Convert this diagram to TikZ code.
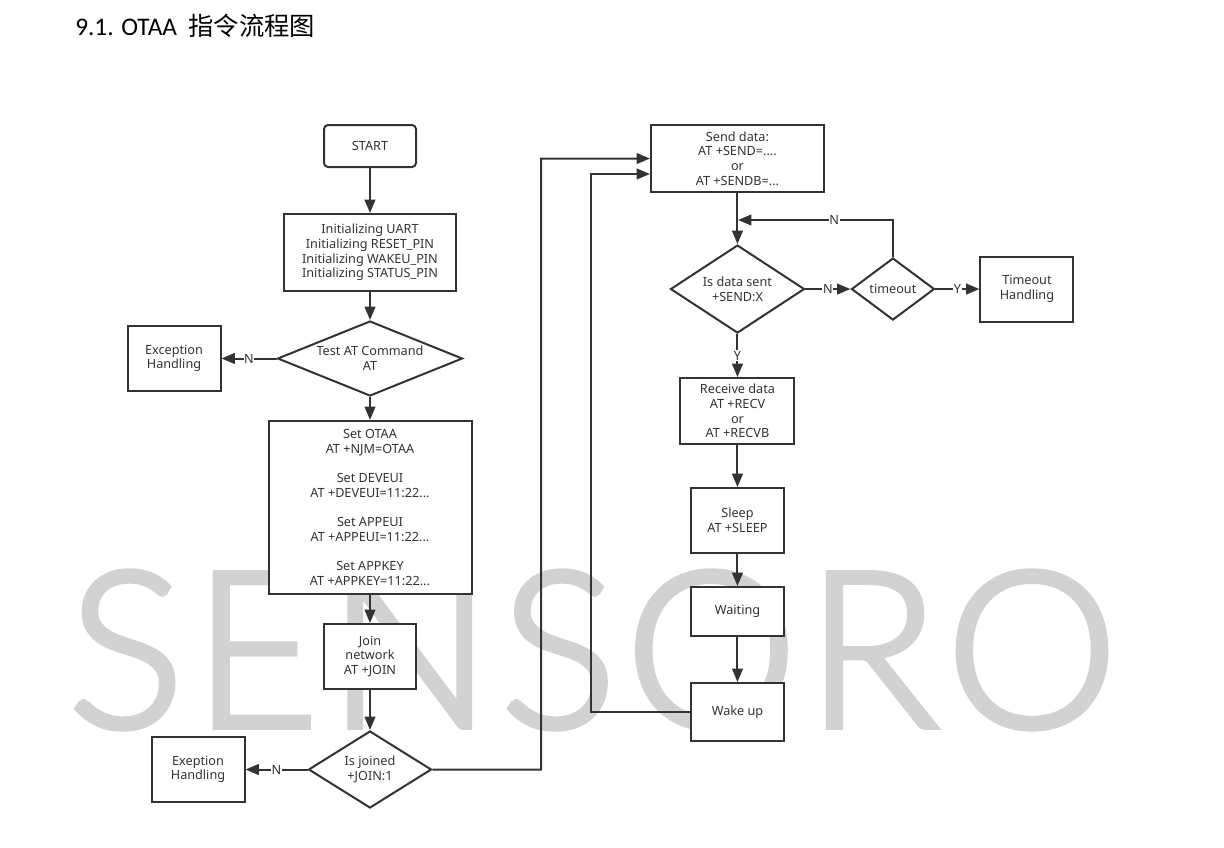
\documentclass[tikz,border=0pt]{standalone}
\usepackage{xcolor}
\usepackage{fontspec}
\setmainfont{Noto Sans}
\setsansfont{Noto Sans}
\newfontfamily\cjk{Noto Sans CJK SC}
\newfontfamily\titlefont{Carlito}
\newfontfamily\markfont[LetterSpace=4,FakeBold=2.8]{Lato Light}
\usetikzlibrary{shapes.geometric, arrows.meta}
\definecolor{ink}{HTML}{333333}
\definecolor{markgray}{HTML}{D2D2D2}
\tikzstyle{startstop} = [rectangle, rounded corners=3pt, draw=ink, fill=white, text=ink, line width=1.5pt, align=center, inner sep=0pt]
\tikzstyle{process} = [rectangle, draw=ink, fill=white, text=ink, line width=1.5pt, align=center, inner sep=0pt]
\tikzstyle{decision} = [diamond, aspect=1.5, draw=ink, fill=white, text=ink, line width=1.5pt, align=center, inner sep=0pt]
\tikzstyle{arrow} = [draw=ink, line width=1.5pt, -{Triangle[length=10pt,width=8pt]}]
\tikzstyle{lbl} = [fill=white, text=ink, inner sep=0.5pt]

\begin{document}
\begin{tikzpicture}[x=0.75pt,y=0.75pt,font=\fontsize{9.5}{11}\selectfont,node distance=75pt]
	\useasboundingbox (0,0) rectangle (1224,-847);
	\node (mark) [text=markgray, anchor=center] at (593,-650) {\markfont\fontsize{163}{163}\selectfont SENSORO};
	\node (title) [anchor=west, text=black, inner sep=0pt] at (75,-26) {\titlefont\fontsize{19}{22}\selectfont 9.1. OTAA\ \ {\cjk 指令流程图}};

	\node (start) [startstop, minimum width=69pt, minimum height=31.5pt] at (370,-146) {START};
	\node (init) [process, below of=start, yshift=-4.875pt, minimum width=129pt, minimum height=57.75pt] {Initializing UART\\Initializing RESET\_PIN\\Initializing WAKEU\_PIN\\Initializing STATUS\_PIN};
	\node (test) [decision, aspect=2.47, below of=init, yshift=-4.5pt, minimum width=138.75pt, minimum height=56.25pt] {Test AT Command\\AT};
	\node (excep) [process, left of=test, xshift=-72pt, minimum width=69.75pt, minimum height=48.75pt] {Exception\\Handling};
	\node (otaa) [process, below of=test, yshift=-36.75pt, minimum width=152.25pt, minimum height=129.75pt] {Set OTAA\\AT +NJM=OTAA\\[11pt]Set DEVEUI\\AT +DEVEUI=11:22...\\[11pt]Set APPEUI\\AT +APPEUI=11:22...\\[11pt]Set APPKEY\\AT +APPKEY=11:22...};
	\node (join) [process, below of=otaa, yshift=-36.75pt, minimum width=69pt, minimum height=48.75pt] {Join\\network\\AT +JOIN};
	\node (joined) [decision, below of=join, yshift=-9.75pt, minimum width=92.25pt, minimum height=57.75pt] {Is joined\\+JOIN:1};
	\node (exep) [process, left of=joined, xshift=-54pt, minimum width=69.75pt, minimum height=48.75pt] {Exeption\\Handling};

	\node (send) [process, right of=start, xshift=200.6pt, yshift=-9.4pt, minimum width=129.75pt, minimum height=50.25pt] {Send data:\\AT +SEND=....\\or\\AT +SENDB=...};
	\node (sent) [decision, below of=send, yshift=-22.875pt, minimum width=100.5pt, minimum height=66pt] {Is data sent\\+SEND:X};
	\node (timeout) [decision, right of=sent, xshift=41.6pt, minimum width=62.25pt, minimum height=46.5pt] {timeout};
	\node (tohandle) [process, right of=timeout, xshift=25.5pt, minimum width=69.75pt, minimum height=48.75pt] {Timeout\\Handling};
	\node (recv) [process, below of=sent, yshift=-16.5pt, minimum width=85.5pt, minimum height=49.5pt] {Receive data\\AT +RECV\\or\\AT +RECVB};
	\node (sleep) [process, below of=recv, yshift=-7.125pt, minimum width=69.75pt, minimum height=48.75pt] {Sleep\\AT +SLEEP};
	\node (wait) [process, below of=sleep, yshift=6.75pt, minimum width=69.75pt, minimum height=36.75pt] {Waiting};
	\node (wake) [process, below of=wait, yshift=-0.375pt, minimum width=69.75pt, minimum height=43.5pt] {Wake up};

	\coordinate (busa) at (541,-158.5);
	\coordinate (busb) at (591,-174);
	\coordinate (sendb) at (send.west |- busb);
	\coordinate (loopin) at (738,-220);

	\draw [arrow] (start) -- (init);
	\draw [arrow] (init) -- (test);
	\draw [arrow] (test) -- node[lbl] {N} (excep);
	\draw [arrow] (test) -- (otaa);
	\draw [arrow] (otaa) -- (join);
	\draw [arrow] (join) -- (joined);
	\draw [arrow] (joined) -- node[lbl] {N} (exep);
	\draw [arrow] (joined) -| (busa) -- (send.west);
	\draw [arrow] (wake) -| (busb) -- (sendb);
	\draw [arrow] (send) -- (sent);
	\draw [arrow] (sent) -- node[lbl] {N} (timeout);
	\draw [arrow] (timeout) |- node[lbl, pos=0.69] {N} (loopin);
	\draw [arrow] (timeout) -- node[lbl] {Y} (tohandle);
	\draw [arrow] (sent) -- node[lbl] {Y} (recv);
	\draw [arrow] (recv) -- (sleep);
	\draw [arrow] (sleep) -- (wait);
	\draw [arrow] (wait) -- (wake);
\end{tikzpicture}
\end{document}
